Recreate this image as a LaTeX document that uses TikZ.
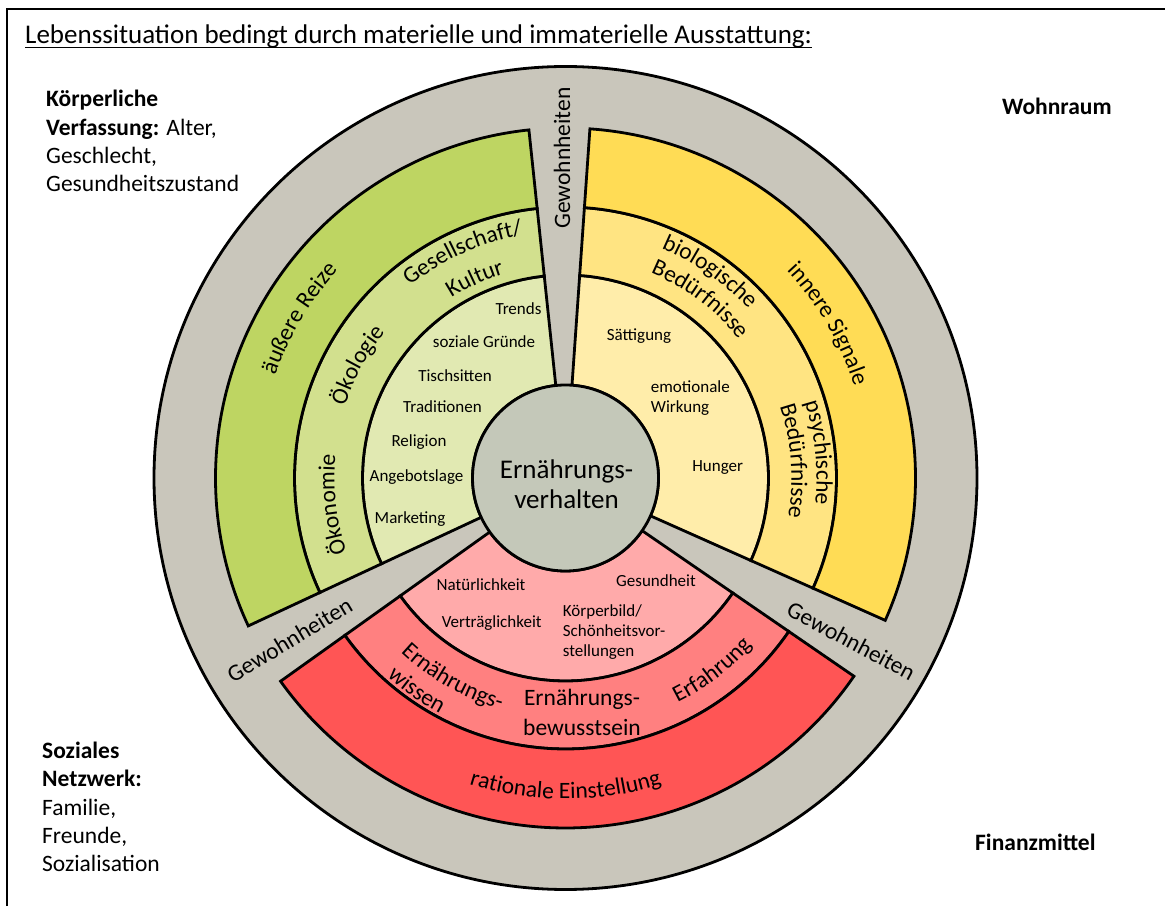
\documentclass[tikz,border=0pt]{standalone}
\usepackage{fontspec}
\setmainfont{Carlito}
\usetikzlibrary{decorations.text}
\definecolor{ringgrey}{HTML}{C9C6BB}
\definecolor{coregrey}{HTML}{C4C8B9}
\definecolor{greenA}{HTML}{BED562}
\definecolor{greenB}{HTML}{D2E08E}
\definecolor{greenC}{HTML}{E1E9B2}
\definecolor{yellowA}{HTML}{FFDC55}
\definecolor{yellowB}{HTML}{FFE482}
\definecolor{yellowC}{HTML}{FFEDAA}
\definecolor{redA}{HTML}{FF5555}
\definecolor{redB}{HTML}{FF8080}
\definecolor{redC}{HTML}{FFAAAA}
\newcommand{\bandfont}{\fontsize{23.5}{28}\selectfont}
\newcommand{\bandpiece}[5]% #1=start angle, #2=end angle, #3=inner radius, #4=outer radius
{\filldraw[bandline,fill=#5] (#1:#3) arc (#1:#2:#3) -- (#2:#4) arc (#2:#1:#4) -- cycle;}% #5=fill colour
\newcommand{\bandtext}[4]% #1=start angle, #2=end angle, #3=baseline radius, #4=text
{\path[decorate,decoration={text along path,text align=center,text={|\bandfont|#4}}] (#1:#3) arc (#1:#2:#3);}

\begin{document}
\begin{tikzpicture}[x=1pt,y=1pt,
    bandline/.style={draw=black,line width=2.8pt},
    maintext/.style={font=\fontsize{23.5}{28.2}\selectfont,inner sep=0pt,align=left},
    hint/.style={font=\fontsize{17}{20}\selectfont,inner sep=0pt,align=left},
    habit/.style={font=\bandfont,inner sep=0pt}]
    \useasboundingbox (0,0) rectangle (1165,906);
    % Rahmen, rechts und unten abgeschnitten
    \draw[line width=2pt] (7,0) -- (7,897) -- (1165,897);
    \node[maintext,font=\fontsize{27}{32}\selectfont,anchor=base west] (title) at (25,862) {Lebenssituation bedingt durch materielle und immaterielle Ausstattung:};
    \draw[line width=1.2pt] ([yshift=-3.7pt]title.base west) -- ([yshift=-3.7pt]title.base east);
    % base = Grundlinie der letzten Zeile
    \node[maintext,anchor=base west] (koerper) at (46,714.5) {\textbf{Körperliche}\\\textbf{Verfassung:} Alter,\\Geschlecht,\\Gesundheitszustand};
    \node[maintext,anchor=base west] (wohnraum) at (1002,791) {\textbf{Wohnraum}};
    \node[maintext,anchor=base west] (sozial) at (42,34.5) {\textbf{Soziales}\\\textbf{Netzwerk:}\\Familie,\\Freunde,\\Sozialisation};
    \node[maintext,anchor=base west] (finanz) at (975,55.5) {\textbf{Finanzmittel}};
    \begin{scope}[shift={(565.5,428)}]
        \filldraw[bandline,fill=ringgrey] (0,0) circle (411.5);
        % gruen: Kultur
        \bandpiece{96}{205}{93}{203}{greenC}
        \bandpiece{96}{205}{203}{271}{greenB}
        \bandpiece{96}{205}{271}{350}{greenA}
        % gelb: Beduerfnisse
        \bandpiece{-24}{86}{93}{203}{yellowC}
        \bandpiece{-24}{86}{203}{271}{yellowB}
        \bandpiece{-24}{86}{271}{350}{yellowA}
        % rot: Einstellung
        \bandpiece{215.5}{325.5}{93}{203}{redC}
        \bandpiece{215.5}{325.5}{203}{271}{redB}
        \bandpiece{215.5}{325.5}{271}{350}{redA}
        \filldraw[bandline,fill=coregrey] (0,0) circle (93);
        % Beschriftung entlang der Ringe
        \bandtext{185}{113}{308}{äußere Reize}
        \bandtext{180}{123}{232}{Ökologie}
        \bandtext{215}{158}{231}{Ökonomie}
        \bandtext{145}{84}{247}{Gesellschaft/}
        \bandtext{140}{89}{213}{Kultur}
        \bandtext{60}{0.8}{303}{innere Signale}
        \bandtext{85}{25}{249}{biologische}
        \bandtext{83}{23}{222}{Bedürfnisse}
        \bandtext{35.8}{-24.2}{251}{psychische}
        \bandtext{34.3}{-25.7}{226}{Bedürfnisse}
        \bandtext{210.5}{270.5}{240}{Ernährungs-}
        \bandtext{205}{265}{267}{wissen}
        \bandtext{277.3}{337.3}{251}{Erfahrung}
        \bandtext{230}{310}{321}{rationale Einstellung}
        \node[habit,rotate=90] (gew1) at (90.6:320) {Gewohnheiten};
        \node[habit,rotate=31] (gew2) at (210.4:320) {Gewohnheiten};
        \node[habit,rotate=-28] (gew3) at (-29.7:329) {Gewohnheiten};
    \end{scope}
    \node[font=\fontsize{27}{30}\selectfont,align=center,inner sep=0pt] (core) at (566.5,422) {Ernährungs-\\verhalten};
    \node[maintext,align=center,font=\fontsize{23.5}{30}\selectfont] (bewusst) at (582,194) {Ernährungs-\\bewusstsein};
    % innen: gruen
    \node[hint] (trends) at (518.5,597) {Trends};
    \node[hint] (gruende) at (484,564) {soziale Gründe};
    \node[hint] (sitten) at (455,530) {Tischsitten};
    \node[hint] (tradition) at (442.5,499) {Traditionen};
    \node[hint] (religion) at (419,464) {Religion};
    \node[hint] (angebot) at (416.5,429) {Angebotslage};
    \node[hint] (marketing) at (410,387) {Marketing};
    % innen: gelb
    \node[hint] (saettigung) at (639,570) {Sättigung};
    \node[hint,anchor=west] (emotion) at (650.7,507.7) {emotionale\\Wirkung};
    \node[hint] (hunger) at (717.7,438) {Hunger};
    % innen: rot
    \node[hint] (natur) at (481,321) {Natürlichkeit};
    \node[hint] (gesund) at (656,325) {Gesundheit};
    \node[hint] (vertraeglich) at (491.7,283) {Verträglichkeit};
    \node[hint,anchor=west] (koerperbild) at (562.7,274.3) {Körperbild/\\Schönheitsvor-\\stellungen};
\end{tikzpicture}
\end{document}
